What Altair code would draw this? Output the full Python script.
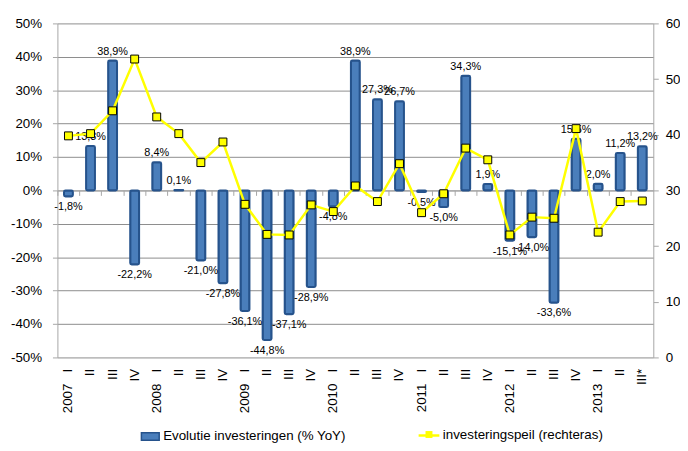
import json
import altair as alt
import pandas as pd

# ---- data ----
periods = [
    "2007 I", "2007 II", "2007 III", "2007 IV",
    "2008 I", "2008 II", "2008 III", "2008 IV",
    "2009 I", "2009 II", "2009 III", "2009 IV",
    "2010 I", "2010 II", "2010 III", "2010 IV",
    "2011 I", "2011 II", "2011 III", "2011 IV",
    "2012 I", "2012 II", "2012 III", "2012 IV",
    "2013 I", "2013 II", "2013 III*",
]
tick_labels = [
    "2007\u00a0\u00a0\u00a0I", "II", "III", "IV",
    "2008\u00a0\u00a0\u00a0I", "II", "III", "IV",
    "2009\u00a0\u00a0\u00a0I", "II", "III", "IV",
    "2010\u00a0\u00a0\u00a0I", "II", "III", "IV",
    "2011\u00a0\u00a0\u00a0I", "II", "III", "IV",
    "2012\u00a0\u00a0\u00a0I", "II", "III", "IV",
    "2013\u00a0\u00a0\u00a0I", "II", "III*",
]
growth = [-1.8, 13.3, 38.9, -22.2,
          8.4, 0.1, -21.0, -27.8,
          -36.1, -44.8, -37.1, -28.9,
          -4.8, 38.9, 27.3, 26.7,
          -0.5, -5.0, 34.3, 1.9,
          -15.1, -14.0, -33.6, 15.5,
          2.0, 11.2, 13.2]
level = [39.8, 40.2, 44.3, 53.6,
         43.2, 40.2, 35.0, 38.7,
         27.5, 22.1, 22.0, 27.4,
         26.2, 30.8, 28.0, 34.8,
         26.0, 29.4, 37.6, 35.5,
         22.0, 25.2, 25.0, 41.1,
         22.5, 28.0, 28.1]
series_bar = "Evolutie investeringen (% YoY)"
series_line = "investeringspeil (rechteras)"

df = pd.DataFrame({
    "period": periods,
    "growth": growth,
    "level": level,
    "label": [f"{v:.1f}%".replace(".", ",") for v in growth],
    "sb": series_bar,
    "sl": series_line,
})

FONT = "Liberation Sans"
AX_FS = 13.5
LBL_FS = 11
GRID = "#8C8C8C"
AXC = "#A6A6A6"
BAR_FILL = "#4A7EBB"
BAR_STROKE = "#26538C"

label_expr = f"{json.dumps(tick_labels, ensure_ascii=False)}[indexof({json.dumps(periods)}, datum.value)]"

xscale = alt.Scale(domain=periods, paddingInner=0, paddingOuter=0)

x_main = alt.X("period:N", sort=periods, scale=xscale,
               axis=alt.Axis(title=None, labelExpr=label_expr, labelAngle=-90,
                             labelFont=FONT, labelFontSize=AX_FS, labelColor="#000000",
                             labelPadding=11, ticks=False, domain=False, grid=False))
x_zero = alt.X("period:N", sort=periods, scale=xscale,
               axis=alt.Axis(title=None, labels=False, ticks=True, tickSize=5,
                             tickColor=AXC, domain=True, domainColor=AXC,
                             bandPosition=0, grid=False, orient="bottom", offset=-169))
x_none = alt.X("period:N", sort=periods, scale=xscale, axis=None)

yl = alt.Y("growth:Q", scale=alt.Scale(domain=[-50, 50], nice=False, zero=False),
           axis=alt.Axis(title=None, values=list(range(-50, 51, 10)),
                         labelExpr="datum.value + '%'", labelFont=FONT, labelFontSize=AX_FS,
                         labelColor="#000000", labelPadding=11, tickSize=5, tickColor=AXC,
                         domainColor=AXC, grid=True, gridColor=GRID, gridWidth=1))
yl_noaxis = alt.Y("growth:Q", scale=alt.Scale(domain=[-50, 50], nice=False, zero=False), axis=None)

yr = alt.Y("level:Q", scale=alt.Scale(domain=[0, 60], nice=False, zero=False),
           axis=alt.Axis(title=None, orient="right", values=list(range(0, 61, 10)),
                         labelFont=FONT, labelFontSize=AX_FS, labelColor="#000000",
                         labelPadding=7, tickSize=5, tickColor=AXC, domainColor=AXC,
                         grid=False))
yr_noaxis = alt.Y("level:Q", scale=alt.Scale(domain=[0, 60], nice=False, zero=False), axis=None)

bars = alt.Chart(df).mark_bar(size=9, stroke=BAR_STROKE, strokeWidth=2, cornerRadius=1.5).encode(
    x=x_main, y=yl,
    fill=alt.Fill("sb:N", scale=alt.Scale(range=[BAR_FILL]),
                  legend=alt.Legend(title=None, orient="none", legendX=84, legendY=408,
                                    symbolType="M-1,-0.42H1V0.42H-1Z", symbolSize=324,
                                    symbolStrokeColor=BAR_STROKE, symbolStrokeWidth=1.5,
                                    symbolFillColor=BAR_FILL, labelLimit=400,
                                    labelFont=FONT, labelFontSize=AX_FS, labelColor="#000000",
                                    labelOffset=3, padding=0)),
)

pos_text = alt.Chart(df).transform_filter("datum.growth >= 0").mark_text(
    font=FONT, fontSize=LBL_FS, baseline="bottom", dy=-4, color="#000000").encode(
    x=x_none, y=yl_noaxis, text="label:N")
neg_text = alt.Chart(df).transform_filter("datum.growth < 0").mark_text(
    font=FONT, fontSize=LBL_FS, baseline="top", dy=5, color="#000000").encode(
    x=x_none, y=yl_noaxis, text="label:N")

line = alt.Chart(df).mark_line(strokeWidth=2.5).encode(
    x=x_zero, y=yr,
    stroke=alt.Stroke("sl:N", scale=alt.Scale(range=["#FFFF00"]),
                      legend=alt.Legend(title=None, orient="none", legendX=364, legendY=405,
                                        symbolType="stroke", symbolSize=441,
                                        symbolStrokeWidth=2.5, symbolStrokeColor="#FFFF00",
                                        labelFont=FONT, labelFontSize=AX_FS, labelColor="#000000",
                                        labelOffset=2, padding=0, labelLimit=400)),
)
points = alt.Chart(df).mark_point(filled=True, fill="#FFFF00", stroke="#000000",
                                  strokeWidth=1, size=64, opacity=1).encode(
    x=x_none, y=yr_noaxis,
    shape=alt.Shape("sl:N", scale=alt.Scale(range=["square"]),
                    legend=alt.Legend(title=None, orient="none", legendX=371, legendY=411,
                                      symbolSize=49, symbolFillColor="#FFFF00",
                                      symbolStrokeColor="#000000", symbolStrokeWidth=1,
                                      labelExpr="''", labelFontSize=10, padding=0)),
)

chart = alt.layer(bars, pos_text, neg_text, line, points).resolve_scale(
    y="independent").resolve_axis(x="independent").properties(
    width=603, height=338,
    autosize=alt.AutoSizeParams(type="none"),
    padding={"left": 50, "top": 13, "right": 27, "bottom": 84},
).configure_view(stroke=None)

chart.save("out.html", embed_options={"renderer": "svg", "actions": False})
